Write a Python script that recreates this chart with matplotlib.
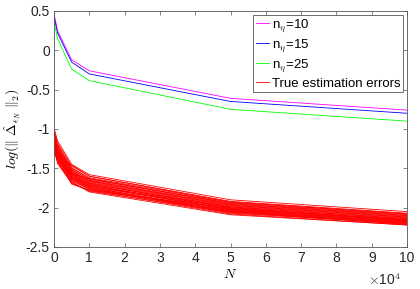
import matplotlib
matplotlib.use("Agg")
import matplotlib.pyplot as plt
import numpy as np

plt.rcParams['font.family'] = ['Liberation Sans', 'DejaVu Sans']
plt.rcParams['mathtext.fontset'] = 'cm'

N = [100, 1000, 5000, 10000, 50000, 100000]
xtick_labels = ['0', '1', '2', '3', '4', '5', '6', '7', '8', '9', '10']

n10 = [0.45, 0.25, -0.12, -0.26, -0.61, -0.76]
n15 = [0.41, 0.22, -0.15, -0.30, -0.65, -0.80]
n25 = [0.34, 0.15, -0.24, -0.385, -0.75, -0.90]

true_errors = [
    [-1.00, -1.15, -1.45, -1.58, -1.90, -2.05],
    [-1.03, -1.18, -1.47, -1.60, -1.92, -2.07],
    [-1.05, -1.20, -1.50, -1.62, -1.93, -2.08],
    [-1.07, -1.22, -1.49, -1.63, -1.95, -2.10],
    [-1.08, -1.21, -1.52, -1.64, -1.94, -2.09],
    [-1.10, -1.24, -1.51, -1.65, -1.96, -2.11],
    [-1.11, -1.26, -1.54, -1.66, -1.97, -2.12],
    [-1.12, -1.25, -1.53, -1.67, -1.98, -2.13],
    [-1.13, -1.27, -1.55, -1.66, -1.97, -2.12],
    [-1.14, -1.28, -1.56, -1.68, -1.99, -2.14],
    [-1.15, -1.29, -1.55, -1.69, -2.00, -2.15],
    [-1.16, -1.30, -1.57, -1.70, -1.99, -2.14],
    [-1.17, -1.31, -1.58, -1.69, -2.01, -2.16],
    [-1.18, -1.30, -1.59, -1.71, -2.02, -2.15],
    [-1.18, -1.32, -1.58, -1.72, -2.00, -2.17],
    [-1.19, -1.33, -1.60, -1.71, -2.03, -2.16],
    [-1.20, -1.34, -1.61, -1.73, -2.02, -2.18],
    [-1.21, -1.33, -1.62, -1.74, -2.04, -2.17],
    [-1.22, -1.35, -1.61, -1.72, -2.03, -2.19],
    [-1.23, -1.36, -1.63, -1.75, -2.05, -2.18],
    [-1.24, -1.37, -1.64, -1.76, -2.04, -2.20],
    [-1.25, -1.36, -1.62, -1.74, -2.06, -2.19],
    [-1.26, -1.38, -1.65, -1.77, -2.05, -2.21],
    [-1.27, -1.39, -1.66, -1.76, -2.07, -2.20],
    [-1.28, -1.40, -1.70, -1.78, -2.08, -2.22],
    [-1.22, -1.42, -1.68, -1.79, -2.06, -2.21],
    [-1.30, -1.41, -1.67, -1.80, -2.09, -2.22],
    [-1.10, -1.38, -1.57, -1.63, -1.95, -2.10],
    [-1.15, -1.35, -1.46, -1.60, -1.93, -2.08],
    [-1.25, -1.44, -1.69, -1.78, -2.01, -2.16],
]

labels = [r'n$_\eta$=10', r'n$_\eta$=15', r'n$_\eta$=25', 'True estimation errors']

fig = plt.figure(figsize=(4.2, 2.89), dpi=100)
ax = fig.add_axes([54/420, 1-247/289, (407-54)/420, (247-11)/289])

h1, = ax.plot(N, n10, color='#ff00ff', lw=0.6)
h2, = ax.plot(N, n15, color='#0000ff', lw=0.6)
h3, = ax.plot(N, n25, color='#00ff00', lw=0.6)
hr = None
for row in true_errors:
    hr, = ax.plot(N, row, color='#ff0000', lw=0.6)

ax.set_xlim(0, 100000)
ax.set_ylim(-2.5, 0.5)
ax.set_xticks(np.arange(0, 100001, 10000))
ax.set_xticklabels(xtick_labels)
ax.set_yticks([-2.5, -2, -1.5, -1, -0.5, 0, 0.5])
ax.set_yticklabels(['-2.5', '-2', '-1.5', '-1', '-0.5', '0', '0.5'])
fig.text(401/420, 4/289, r'$\times$10$^4$', ha='right', va='baseline',
         fontsize=10, color='#262626')

ax.tick_params(direction='in', top=True, right=True, length=3, width=0.5,
               color='#555555', labelsize=10, labelcolor='#262626', pad=3)
for s in ax.spines.values():
    s.set_color('#555555')
    s.set_linewidth(0.6)

ax.set_xlabel(r'$N$', fontsize=10, labelpad=1)
ax.set_ylabel(r'$log(\|\ \hat{\Delta}_{\epsilon_N}\ \|_2)$', fontsize=10, labelpad=2)

leg = ax.legend([h1, h2, h3, hr], labels, loc='upper right', fontsize=9.5,
                frameon=True, fancybox=False, framealpha=1, edgecolor='#555555',
                handlelength=1.0, handletextpad=0.2, labelspacing=0.25,
                borderpad=0.2, borderaxespad=0.3)
leg.get_frame().set_linewidth(0.6)

fig.savefig('out.png', dpi=100)
